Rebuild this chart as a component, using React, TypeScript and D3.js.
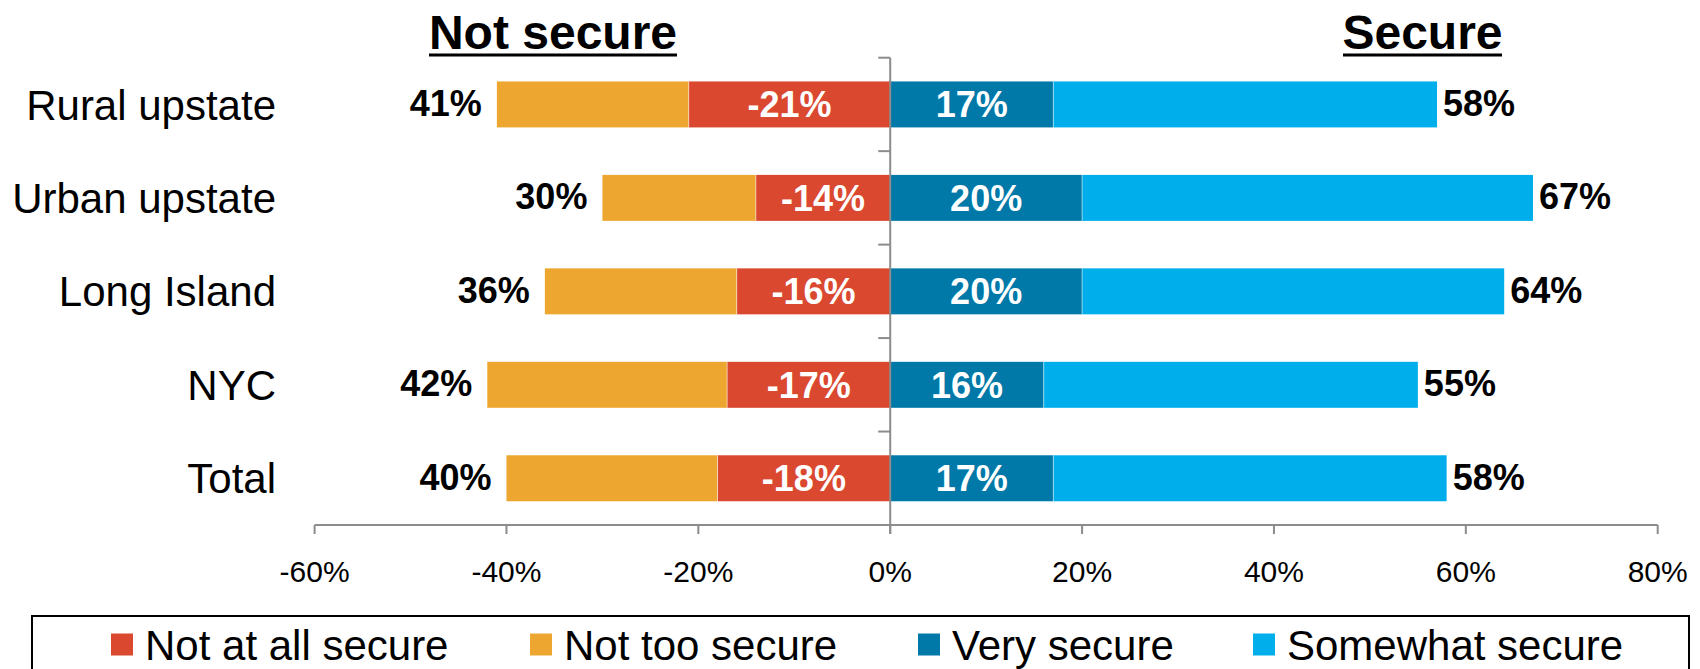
import React from "react";
import * as d3 from "d3";

const categories = ["Rural upstate", "Urban upstate", "Long Island", "NYC", "Total"];
const notAtAllSecure = [21, 14, 16, 17, 18];
const notTooSecure = [20, 16, 20, 25, 22];
const verySecure = [17, 20, 20, 16, 17];
const somewhatSecure = [40, 47, 44, 39, 41];
const notSecureTotals = [41, 30, 36, 42, 40];
const secureTotals = [58, 67, 64, 55, 58];
const xTicks = [-60, -40, -20, 0, 20, 40, 60, 80];
const legendLabels = ["Not at all secure", "Not too secure", "Very secure", "Somewhat secure"];

const COLORS = {
  notAtAll: "#DA4830",
  notToo: "#EDA731",
  very: "#0079A8",
  somewhat: "#00AEEB",
};
const legendColors = [COLORS.notAtAll, COLORS.notToo, COLORS.very, COLORS.somewhat];
const FONT = "'Liberation Sans', Arial, Helvetica, sans-serif";
const AXIS = "#8c8c8c";

export default function App() {
  const W = 1700, H = 669;
  const x = d3.scaleLinear().domain([-60, 80]).range([314.6, 1657.7]);
  const y = d3.scaleBand().domain(categories).range([57.7, 525]).padding(0);
  const bw = y.bandwidth();
  const barH = bw * 0.492;
  const x0 = x(0);
  const axisY = 525;

  // legend layout: swatch, gap, text, then fixed spacing to next item
  const LEGEND_FONT = 42;
  const legendTextWidths = [305, 274, 221, 336];
  const legendX: number[] = [];
  let lx = 111;
  legendLabels.forEach((_, i) => {
    legendX.push(lx);
    lx += 34 + legendTextWidths[i] + 80;
  });

  return (
    <svg width={W} height={H} style={{ position: "absolute", left: 0, top: 0, display: "block", background: "#fff" }}>
      {/* Titles */}
      <text x={553} y={49} textAnchor="middle" fontFamily={FONT} fontWeight="bold" fontSize={48} fill="#000">Not secure</text>
      <rect x={429} y={53.5} width={248} height={3} fill="#000" />
      <text x={1422.5} y={49} textAnchor="middle" fontFamily={FONT} fontWeight="bold" fontSize={48} fill="#000">Secure</text>
      <rect x={1343} y={53.5} width={159} height={3} fill="#000" />

      {/* Bars */}
      {categories.map((c, i) => {
        const yb = (y(c) as number) + (bw - barH) / 2;
        const cy = yb + barH / 2;
        const a = notAtAllSecure[i];
        const b = notTooSecure[i];
        const v = verySecure[i];
        const s = somewhatSecure[i];
        return (
          <g key={c}>
            <rect x={x(-a)} y={yb} width={x0 - x(-a)} height={barH} fill={COLORS.notAtAll} />
            <rect x={x(-(a + b))} y={yb} width={x(-a) - x(-(a + b))} height={barH} fill={COLORS.notToo} />
            <rect x={x0} y={yb} width={x(v) - x0} height={barH} fill={COLORS.very} />
            <rect x={x(v)} y={yb} width={x(v + s) - x(v)} height={barH} fill={COLORS.somewhat} />
            <line x1={x(-a)} x2={x(-a)} y1={yb} y2={yb + barH} stroke="#fff" strokeOpacity={0.5} strokeWidth={1} />
            <line x1={x(v)} x2={x(v)} y1={yb} y2={yb + barH} stroke="#fff" strokeOpacity={0.5} strokeWidth={1} />
            {/* inside labels */}
            <text x={(x(-a) + x0) / 2} y={cy} dy="0.36em" textAnchor="middle" fontFamily={FONT} fontWeight="bold" fontSize={36} fill="#fff">{`-${a}%`}</text>
            <text x={(x0 + x(v)) / 2} y={cy} dy="0.36em" textAnchor="middle" fontFamily={FONT} fontWeight="bold" fontSize={36} fill="#fff">{`${v}%`}</text>
            {/* totals */}
            <text x={x(-(a + b)) - 15} y={cy} dy="0.32em" textAnchor="end" fontFamily={FONT} fontWeight="bold" fontSize={36} fill="#000">{`${notSecureTotals[i]}%`}</text>
            <text x={x(v + s) + 6} y={cy} dy="0.32em" textAnchor="start" fontFamily={FONT} fontWeight="bold" fontSize={36} fill="#000">{`${secureTotals[i]}%`}</text>
            {/* category label */}
            <text x={276} y={cy} dy="0.36em" textAnchor="end" fontFamily={FONT} fontSize={42} fill="#000">{c}</text>
          </g>
        );
      })}

      {/* Vertical axis */}
      <line x1={x0} x2={x0} y1={57.7} y2={axisY + 9} stroke={AXIS} strokeWidth={2} />
      {d3.range(categories.length + 1).map((k) => {
        const yy = 57.7 + k * bw;
        return <line key={k} x1={x0 - 12} x2={x0} y1={yy} y2={yy} stroke={AXIS} strokeWidth={2} />;
      })}

      {/* Horizontal axis */}
      <line x1={x(-60)} x2={x(80)} y1={axisY} y2={axisY} stroke={AXIS} strokeWidth={2} />
      {xTicks.map((t) => (
        <g key={t}>
          <line x1={x(t)} x2={x(t)} y1={axisY} y2={axisY + 9} stroke={AXIS} strokeWidth={2} />
          <text x={x(t)} y={582} textAnchor="middle" fontFamily={FONT} fontSize={30} fill="#000">{`${t}%`}</text>
        </g>
      ))}

      {/* Legend */}
      <rect x={32} y={616} width={1657} height={80} fill="none" stroke="#000" strokeWidth={2} />
      {legendLabels.map((l, i) => (
        <g key={l}>
          <rect x={legendX[i]} y={633.5} width={22} height={22} fill={legendColors[i]} />
          <text x={legendX[i] + 34} y={660} fontFamily={FONT} fontSize={LEGEND_FONT} fill="#000">{l}</text>
        </g>
      ))}
    </svg>
  );
}
